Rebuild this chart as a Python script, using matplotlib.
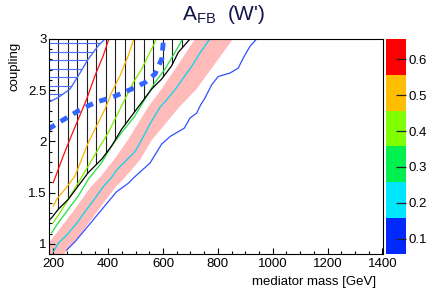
import numpy as np
import matplotlib
matplotlib.use('Agg')
import matplotlib.pyplot as plt
from matplotlib.colors import ListedColormap, BoundaryNorm
from matplotlib.patches import Polygon
from matplotlib.ticker import MultipleLocator
import matplotlib.cm as cm

plt.rcParams['font.family'] = ['Liberation Sans', 'DejaVu Sans']
plt.rcParams['mathtext.fontset'] = 'custom'
plt.rcParams['mathtext.rm'] = 'Liberation Sans'

# contour levels of A_FB and palette
levels = [0.057, 0.157, 0.257, 0.357, 0.457, 0.557, 0.657]
pal = ['#0028ff', '#00e6ff', '#00f050', '#80ff00', '#ffbe00', '#ff0000']
cbar_ticks = [0.1, 0.2, 0.3, 0.4, 0.5, 0.6]

# iso-A_FB lines (mass GeV, coupling)
c01_x = [248.5, 278.8, 309, 339.6, 369.9, 400.2, 430.8, 473.1, 497.5, 552.2, 570.4, 594.9, 625.2,
         677.3, 698, 722.5, 737, 752.7, 777.2, 801.2, 843.9, 874.1, 892.4, 916.8, 938.7]
c01_y = [0.938, 1.020, 1.117, 1.215, 1.313, 1.411, 1.509, 1.591, 1.656, 1.787, 1.868, 1.973, 2.047,
         2.129, 2.227, 2.276, 2.357, 2.423, 2.553, 2.634, 2.667, 2.716, 2.814, 2.928, 2.993]
c02_x = [199.6, 217.9, 248.5, 285, 315.2, 351.7, 381.9, 412.6, 430.8, 467.3, 497.5, 521.9, 552.2,
         588.7, 613.1, 643.4, 673.6, 704.2, 734.5, 768.4]
c02_y = [0.922, 1.004, 1.085, 1.200, 1.313, 1.444, 1.558, 1.648, 1.721, 1.819, 1.900, 2.015, 2.171,
         2.333, 2.406, 2.504, 2.618, 2.732, 2.863, 2.993]
c03_x = [193.8, 217.9, 254.3, 290.8, 327.2, 376.1, 412.6, 449, 497.5, 534, 570.4, 606.9, 643.4, 667.8, 670.7]
c03_y = [1.108, 1.205, 1.337, 1.467, 1.630, 1.793, 1.956, 2.086, 2.250, 2.413, 2.575, 2.706, 2.869, 2.983, 3.0]
c04_x = [199.6, 224.1, 254.3, 290.8, 327.2, 363.7, 400.2, 430.8, 461.1, 491.3, 521.9, 546, 570.4, 574]
c04_y = [1.205, 1.303, 1.434, 1.597, 1.760, 1.924, 2.086, 2.250, 2.413, 2.575, 2.706, 2.837, 2.967, 3.0]
c05_x = [199.6, 212, 242.3, 278.8, 303.2, 327.2, 351.7, 388.1, 412.6, 442.8, 473.1, 491.3, 494]
c05_y = [1.369, 1.434, 1.532, 1.662, 1.826, 1.988, 2.119, 2.315, 2.478, 2.641, 2.837, 2.983, 3.0]
c06_x = [199.6, 217.9, 236.1, 260.5, 290.8, 321.4, 351.7, 381.9, 400.2, 404]
c06_y = [1.597, 1.728, 1.858, 2.022, 2.217, 2.413, 2.641, 2.837, 2.983, 3.0]

# pink band around the 0.2 line
band_lo_x = [143.9, 158.4, 205.8, 271.5, 337.1, 369.9, 421, 472, 545, 592.4, 650.7, 716.3]
band_lo_y = [0.860, 0.922, 1.085, 1.313, 1.558, 1.648, 1.819, 2.015, 2.333, 2.504, 2.732, 3.0]
band_hi_x = [229.5, 245.9, 297, 359, 428.2, 461.1, 515.7, 559.5, 605.1, 658, 720, 782, 854.9]
band_hi_y = [0.860, 0.922, 1.085, 1.313, 1.558, 1.648, 1.819, 2.015, 2.161, 2.333, 2.504, 2.732, 3.0]

# excluded region (black boundary, vertical hatch)
excl_x = [698, 655.4, 631.3, 594.9, 558.4, 521.9, 485.5, 449, 412.6, 376.1, 327.2, 290.8, 254.3, 217.9, 193.8, 181.4]
excl_y = [3.0, 2.869, 2.739, 2.609, 2.511, 2.380, 2.250, 2.119, 1.956, 1.826, 1.695, 1.565, 1.434, 1.337, 1.254, 1.222]

# second excluded region (blue boundary, horizontal hatch)
excl2_x = [181.4, 217.9, 260.5, 290.8, 327.2, 363.7, 388.1]
excl2_y = [2.380, 2.429, 2.511, 2.641, 2.804, 2.934, 3.0]

# thick dashed line
dash_x = [181.4, 230.3, 290.8, 351.7, 412.6, 485.5, 534, 570.4, 594.9, 600.7, 603]
dash_y = [2.119, 2.201, 2.298, 2.380, 2.429, 2.511, 2.575, 2.658, 2.804, 2.967, 3.016]

fig = plt.figure(figsize=(4.41, 2.99), dpi=100)
ax = fig.add_axes([0.1111, 0.1505, 0.7574, 0.7191])
cax = fig.add_axes([0.8753, 0.1505, 0.0454, 0.7191])

# band
bx = band_lo_x + band_hi_x[::-1]
by = band_lo_y + band_hi_y[::-1]
ax.fill(bx, by, color='#ffbaba', lw=0, zorder=1)

# vertical hatch in excluded region
poly = Polygon(list(zip(excl_x, excl_y)) + [(excl_x[-1], excl_y[0])], closed=True,
               fc='none', ec='none')
ax.add_patch(poly)
hx = np.arange(217.9, 720, 34.6)
vl = ax.vlines(hx, 0.85, 3.05, colors='#222222', lw=0.8, zorder=2)
vl.set_clip_path(poly)

poly2 = Polygon(list(zip(excl2_x, excl2_y)) + [(excl2_x[0], excl2_y[-1])], closed=True,
                fc='none', ec='none')
ax.add_patch(poly2)
hy = np.arange(2.959, 2.3, -0.0832)
hl = ax.hlines(hy, 170, 420, colors='#4a6cff', lw=0.8, zorder=2)
hl.set_clip_path(poly2)

lines = [(c01_x, c01_y), (c02_x, c02_y), (c03_x, c03_y), (c04_x, c04_y), (c05_x, c05_y), (c06_x, c06_y)]
line_cols = ['#3050ff', '#00d8f0', '#20e040', '#80ee00', '#ffb000', '#ff1010']
for (lx, ly), col in zip(lines, line_cols):
    ax.plot(lx, ly, color=col, lw=0.9, zorder=3)

ax.plot(excl_x, excl_y, color='black', lw=0.9, zorder=4)
ax.plot(excl2_x, excl2_y, color='#4a6cff', lw=1.0, zorder=4)
ax.plot(dash_x, dash_y, color='#3366ff', lw=3.5, dashes=(1.6, 1.4), zorder=5)

ax.set_xlim(184, 1402)
ax.set_ylim(0.9, 3.0)
ax.xaxis.set_major_locator(MultipleLocator(200))
ax.xaxis.set_minor_locator(MultipleLocator(50))
ax.yaxis.set_major_locator(MultipleLocator(0.5))
ax.yaxis.set_minor_locator(MultipleLocator(0.1))
ax.set_xticks([200, 400, 600, 800, 1000, 1200, 1400])
ax.set_yticks([1, 1.5, 2, 2.5, 3])
ax.set_yticklabels(['1', '1.5', '2', '2.5', '3'])
ax.tick_params(which='both', direction='in', top=False, right=False, labelsize=9.5, width=0.8)
ax.tick_params(which='major', length=4.5)
ax.tick_params(which='minor', length=2.3)
ax.tick_params(axis='x', pad=3)
ax.tick_params(axis='y', pad=1.8)
for s in ax.spines.values():
    s.set_linewidth(0.8)
    s.set_zorder(6)

cmap = ListedColormap(pal)
norm = BoundaryNorm(levels, cmap.N)
cb = fig.colorbar(cm.ScalarMappable(norm=norm, cmap=cmap), cax=cax, ticks=cbar_ticks)
cb.outline.set_visible(False)
cb.ax.set_yticklabels(['0.1', '0.2', '0.3', '0.4', '0.5', '0.6'])
cb.ax.tick_params(direction='in', length=7, width=0.9, color='#222222', labelsize=9.5, pad=2)
cb.ax.minorticks_off()

fig.text(0.507, 0.933, r"A$_{\mathrm{FB}}$  (W')", ha='center', va='baseline', fontsize=15, color='#14144a')
fig.text(0.034, 1 - 41.7 / 299, 'coupling', rotation=90, ha='center', va='top', fontsize=9.5)
fig.text(375.7 / 441, 1 - 281.7 / 299, 'mediator mass [GeV]', ha='right', va='center', fontsize=9.5)

fig.savefig('out.png', dpi=100)
